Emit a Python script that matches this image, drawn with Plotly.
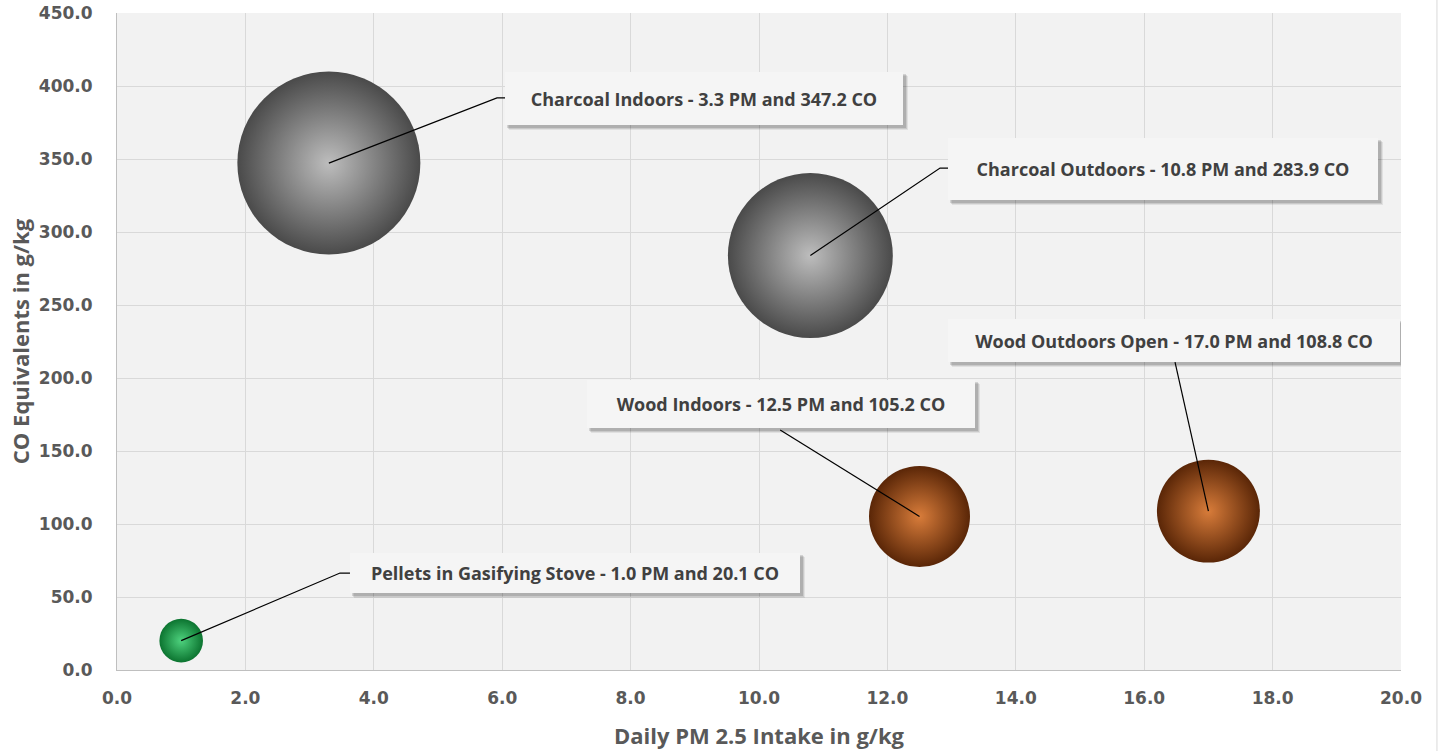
import plotly.graph_objects as go

# ---- data ----
categories = ["Charcoal Indoors", "Charcoal Outdoors", "Wood Indoors",
              "Wood Outdoors Open", "Pellets in Gasifying Stove"]
pm25 = [3.3, 10.8, 12.5, 17.0, 1.0]          # Daily PM 2.5 intake, g/kg
co_eq = [347.2, 283.9, 105.2, 108.8, 20.1]    # CO equivalents, g/kg
bubble_size = [33.5, 27.2, 10.2, 10.6, 1.9]   # bubble size values (estimated)
x_ticks = [0, 2, 4, 6, 8, 10, 12, 14, 16, 18, 20]
y_ticks = [0, 50, 100, 150, 200, 250, 300, 350, 400, 450]

# ---- styles ----
center_colors = ["#bdbdbd", "#bdbdbd", "#d87c3a", "#d87c3a", "#4ed27e"]
edge_colors = ["#4a4a4a", "#4a4a4a", "#5a2607", "#5a2607", "#0c7430"]
# label box: left x, center y (data coords), width, height (px)
box_left = [6.044, 12.944, 7.321, 12.944, 3.629]
box_cy = [391.4, 343.2, 182.2, 225.7, 66.4]
box_w = [398, 430, 388, 452, 450]
box_h = [53, 62, 48, 43, 40]
# leader-line elbow points (data coords); None end => no horizontal tick
lead_x = [5.919, 12.82, 10.33, 16.48, 3.474]
lead_y = [391.8, 343.8, 164.4, 210.9, 66.4]
lead_end_x = [6.044, 12.944, None, None, 3.629]

MAX_D = 183
sizeref = max(bubble_size) / (MAX_D / 2) ** 2 / 2

fig = go.Figure()
for i in range(len(categories)):
    fig.add_trace(go.Scatter(
        x=[pm25[i]], y=[co_eq[i]], mode="markers", name=categories[i],
        marker=dict(size=[bubble_size[i]], sizemode="area", sizeref=sizeref,
                    color=edge_colors[i], opacity=1,
                    gradient=dict(type="radial", color=center_colors[i]),
                    line=dict(width=0)),
        hoverinfo="skip", showlegend=False))

shapes = []
annotations = []
for i in range(len(categories)):
    path = f"M {pm25[i]},{co_eq[i]} L {lead_x[i]},{lead_y[i]}"
    if lead_end_x[i] is not None:
        path += f" L {lead_end_x[i]},{lead_y[i]}"
    shapes.append(dict(type="path", xref="x", yref="y", path=path,
                       line=dict(color="black", width=1.2), layer="above"))
    # soft drop shadow behind the label box
    for k, a in enumerate([0.07, 0.10, 0.13]):
        off = 5 - k
        shapes.append(dict(type="rect", xref="x", yref="y",
                           xsizemode="pixel", ysizemode="pixel",
                           xanchor=box_left[i], yanchor=box_cy[i],
                           x0=off - 1, x1=box_w[i] + off,
                           y0=-box_h[i] / 2 - off, y1=box_h[i] / 2 - off + 1,
                           fillcolor=f"rgba(0,0,0,{a})", line=dict(width=0),
                           layer="above"))
    label = f"{categories[i]} - {pm25[i]:.1f} PM and {co_eq[i]:.1f} CO"
    annotations.append(dict(text=label, x=box_left[i], y=box_cy[i],
                            xref="x", yref="y", xanchor="left",
                            yanchor="middle", showarrow=False,
                            width=box_w[i], height=box_h[i], borderpad=0,
                            borderwidth=0, align="center", valign="middle",
                            bgcolor="#f5f5f5",
                            font=dict(family="Open Sans", size=18,
                                      color="#404040", weight="bold")))

shapes.append(dict(type="line", xref="paper", yref="paper",
                   x0=1.028, x1=1.028, y0=-0.2, y1=1.1,
                   line=dict(color="#d9d9d9", width=1)))

tick_font = dict(family="DejaVu Sans", size=17, color="#595959", weight="bold")
title_font = dict(family="Open Sans", size=22, color="#595959", weight="bold")

fig.update_layout(
    width=1439, height=751,
    margin=dict(l=117, r=38, t=13, b=81),
    paper_bgcolor="white", plot_bgcolor="#f2f2f2",
    shapes=shapes, annotations=annotations,
    xaxis=dict(range=[0, 20], tickvals=x_ticks, tickformat=".1f",
               showgrid=True, gridcolor="#d9d9d9", gridwidth=1,
               zeroline=False, showline=True, linecolor="#bfbfbf",
               ticks="", tickfont=tick_font, ticklabelstandoff=13,
               ticklabeloverflow="allow",
               title=dict(text="Daily PM 2.5 Intake in g/kg",
                          font=title_font, standoff=21),
               automargin=False),
    yaxis=dict(range=[0, 450], tickvals=y_ticks, tickformat=".1f",
               showgrid=True, gridcolor="#d9d9d9", gridwidth=1,
               zeroline=False, showline=True, linecolor="#bfbfbf",
               ticks="", tickfont=tick_font, ticklabelstandoff=20,
               ticklabeloverflow="allow",
               title=dict(text="CO Equivalents in g/kg",
                          font=title_font, standoff=3),
               automargin=False),
)

fig.write_html("out.html", config={"displayModeBar": False},
               post_script="document.body.style.margin='0';")
